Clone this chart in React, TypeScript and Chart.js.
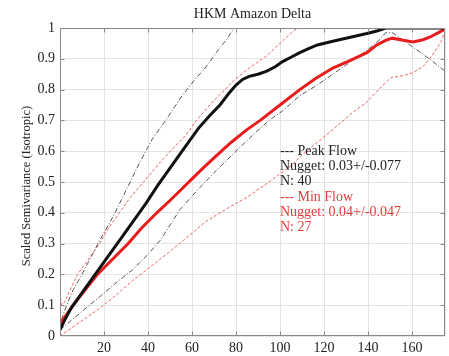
import { useEffect, useRef } from "react";
import { Chart, registerables } from "chart.js";

Chart.register(...registerables);

const SERIF = '"Liberation Serif", "Times New Roman", Times, serif';

const chartTitle = "HKM Amazon Delta";
const yAxisTitle = "Scaled Semivariance (Isotropic)";

const xMin = 0;
const xMax = 175;
const xTickValues = [0, 20, 40, 60, 80, 100, 120, 140, 160, 175];
const yMin = 0;
const yMax = 1;
const yTickValues = [0, 0.1, 0.2, 0.3, 0.4, 0.5, 0.6, 0.7, 0.8, 0.9, 1];

// Mean semivariogram, peak flow (black, thick)
const peakMean: [number, number][] = [
  [0, 0.02], [2, 0.05], [5, 0.09], [9, 0.13], [16, 0.2], [22, 0.26], [27, 0.31],
  [33, 0.37], [39, 0.43], [44.5, 0.49], [50, 0.545], [55.5, 0.6], [63, 0.675],
  [68, 0.715], [72.7, 0.75], [77, 0.79], [80, 0.815], [83, 0.833], [86, 0.843],
  [90, 0.85], [94, 0.86], [98, 0.875], [101, 0.89], [105, 0.905], [109, 0.92],
  [113, 0.933], [117, 0.945], [124, 0.957], [132, 0.97], [139.5, 0.982],
  [144, 0.99], [148, 1.0], [160, 1.0], [175, 1.0],
];

// Mean semivariogram, min flow (red, thick)
const minMean: [number, number][] = [
  [0, 0.04], [2, 0.06], [6, 0.1], [12, 0.155], [17, 0.2], [24, 0.25], [31, 0.3],
  [37, 0.35], [44, 0.4], [50, 0.44], [55, 0.475], [60, 0.51], [65, 0.545],
  [71, 0.585], [78, 0.63], [85, 0.67], [91, 0.7], [100, 0.75], [109, 0.8],
  [116, 0.835], [124, 0.87], [132, 0.895], [139.5, 0.92], [144, 0.945],
  [148, 0.96], [151, 0.967], [156, 0.96], [160.5, 0.955], [165, 0.962],
  [168, 0.97], [172, 0.985], [175, 0.997],
];

// Peak flow envelope (black, dash-dot)
const peakUpper: [number, number][] = [
  [0, 0.02], [1, 0.06], [3, 0.1], [6, 0.15], [10, 0.2], [14, 0.255], [18, 0.31],
  [22, 0.36], [25, 0.4], [30.5, 0.48], [36, 0.56], [42, 0.64], [48, 0.7],
  [55.5, 0.78], [61, 0.83], [66, 0.87], [72, 0.93], [76, 0.965], [79, 1.0],
  [85, 1.05],
];
const peakLower: [number, number][] = [
  [0, 0.02], [5, 0.05], [10, 0.08], [18, 0.127], [25, 0.17], [33, 0.215],
  [40, 0.265], [45.5, 0.31], [50, 0.36], [54.5, 0.41], [62, 0.47], [70, 0.53],
  [80, 0.6], [88, 0.655], [95, 0.7], [101, 0.73], [109, 0.78], [117, 0.815],
  [124, 0.85], [132, 0.89], [140, 0.93], [145, 0.96], [148, 0.985], [151, 0.985],
  [155, 0.965], [160, 0.94], [165, 0.915], [170, 0.888], [175, 0.86],
];

// Min flow envelope (red, dotted)
const minUpper: [number, number][] = [
  [0, 0.14], [0.7, 0.1], [2, 0.11], [4, 0.14], [8, 0.2], [13, 0.25], [18, 0.3],
  [22, 0.35], [27, 0.4], [32, 0.45], [38, 0.5], [45, 0.56], [51.5, 0.61],
  [57, 0.65], [62, 0.7], [70, 0.765], [75, 0.8], [79, 0.83], [86, 0.87],
  [94, 0.91], [100, 0.95], [106, 0.99], [108, 1.0], [112, 1.03],
];
const minLower: [number, number][] = [
  [0, 0], [5, 0.025], [10, 0.05], [18, 0.09], [25, 0.13], [33, 0.18],
  [43, 0.235], [50, 0.275], [56, 0.31], [66, 0.37], [75, 0.41], [85, 0.45],
  [95, 0.5], [104.5, 0.55], [112, 0.6], [118, 0.635], [124, 0.67], [132, 0.72],
  [139.5, 0.76], [145.5, 0.805], [149, 0.83], [151, 0.84], [156, 0.845],
  [160.5, 0.855], [165, 0.875], [168, 0.9], [171, 0.93], [173.5, 0.96],
  [175, 0.99],
];

const peakLegend = ["--- Peak Flow", "Nugget: 0.03+/-0.077", "N: 40"];
const minLegend = ["--- Min Flow", "Nugget: 0.04+/-0.047", "N: 27"];

const BLACK = "#111111";
const RED = "#e81c1c";
const TEXT_RED = "#e53a3a";

const toPoints = (s: [number, number][]) => s.map(([x, y]) => ({ x, y }));

const annotations = {
  id: "annotations",
  afterDraw(chart: any) {
    const { ctx, chartArea, scales } = chart;
    const xs = scales.x;
    const ys = scales.y;
    ctx.save();

    // axes box with inward ticks
    ctx.strokeStyle = "#8a8a8a";
    ctx.lineWidth = 1;
    const l = Math.round(chartArea.left) + 0.5;
    const r = Math.round(chartArea.right) - 0.5;
    const t = Math.round(chartArea.top) + 0.5;
    const b = Math.round(chartArea.bottom) - 0.5;
    ctx.strokeRect(l, t, r - l, b - t);
    ctx.beginPath();
    xTickValues.slice(1, -1).forEach((v) => {
      const px = Math.round(xs.getPixelForValue(v)) + 0.5;
      ctx.moveTo(px, b); ctx.lineTo(px, b - 4);
      ctx.moveTo(px, t); ctx.lineTo(px, t + 4);
    });
    yTickValues.slice(1, -1).forEach((v) => {
      const py = Math.round(ys.getPixelForValue(v)) + 0.5;
      ctx.moveTo(l, py); ctx.lineTo(l + 4, py);
      ctx.moveTo(r, py); ctx.lineTo(r - 4, py);
    });
    ctx.stroke();

    // title
    ctx.fillStyle = "#222";
    ctx.font = `14px ${SERIF}`;
    ctx.textAlign = "center";
    ctx.textBaseline = "middle";
    ctx.fillText(chartTitle, (chartArea.left + chartArea.right) / 2, 14);

    // y axis title
    ctx.save();
    ctx.translate(27, ys.getPixelForValue(0.5) + 4);
    ctx.rotate(-Math.PI / 2);
    ctx.font = `12.5px ${SERIF}`;
    ctx.fillText(yAxisTitle, 0, 0);
    ctx.restore();

    // statistics text
    ctx.font = `14px ${SERIF}`;
    ctx.textAlign = "left";
    const lx = xs.getPixelForValue(100);
    const ly = ys.getPixelForValue(0.6);
    const step = 15.3;
    peakLegend.forEach((s, i) => {
      ctx.fillStyle = "#222";
      ctx.fillText(s, lx, ly + i * step);
    });
    minLegend.forEach((s, i) => {
      ctx.fillStyle = TEXT_RED;
      ctx.fillText(s, lx, ly + (i + 3) * step);
    });
    ctx.restore();
  },
};

export default function App() {
  const canvasRef = useRef<HTMLCanvasElement | null>(null);

  useEffect(() => {
    const canvas = canvasRef.current;
    if (!canvas) return;
    const chart = new Chart(canvas, {
      type: "line",
      data: {
        datasets: [
          { label: "Peak Flow", data: toPoints(peakMean), borderColor: BLACK, borderWidth: 3 },
          { label: "Min Flow", data: toPoints(minMean), borderColor: RED, borderWidth: 3 },
          {
            label: "Peak upper", data: toPoints(peakUpper), borderColor: "#555555",
            borderWidth: 1, borderDash: [5, 2, 1, 2],
          },
          {
            label: "Peak lower", data: toPoints(peakLower), borderColor: "#555555",
            borderWidth: 1, borderDash: [5, 2, 1, 2],
          },
          {
            label: "Min upper", data: toPoints(minUpper), borderColor: "rgba(236,70,70,0.85)",
            borderWidth: 1, borderDash: [3, 2],
          },
          {
            label: "Min lower", data: toPoints(minLower), borderColor: "rgba(236,70,70,0.85)",
            borderWidth: 1, borderDash: [3, 2],
          },
        ],
      },
      options: {
        responsive: false,
        animation: false,
        devicePixelRatio: 1,
        layout: { padding: { left: 0, right: 3, top: 28, bottom: 0 } },
        elements: {
          point: { radius: 0 },
          line: { tension: 0, fill: false, borderCapStyle: "butt" },
        },
        plugins: {
          legend: { display: false },
          title: { display: false },
          tooltip: { enabled: false },
        },
        scales: {
          x: {
            type: "linear",
            min: xMin,
            max: xMax,
            afterBuildTicks: (s: any) => { s.ticks = xTickValues.map((value) => ({ value })); },
            afterFit: (s: any) => { s.height = 20; },
            grid: { color: "#e4e4e4", drawTicks: false },
            border: { display: false },
            ticks: {
              padding: 4,
              color: "#222",
              font: { family: SERIF, size: 14 },
              maxRotation: 0,
              autoSkip: false,
              callback: (v: any) => (v === xMin || v === xMax ? "" : String(v)),
            },
          },
          y: {
            type: "linear",
            min: yMin,
            max: yMax,
            afterBuildTicks: (s: any) => { s.ticks = yTickValues.map((value) => ({ value })); },
            afterFit: (s: any) => { s.width = 60; },
            grid: { color: "#e4e4e4", drawTicks: false },
            border: { display: false },
            ticks: {
              padding: 5,
              color: "#222",
              font: { family: SERIF, size: 14 },
              autoSkip: false,
              callback: (v: any) => {
                const r = Math.round(Number(v) * 10) / 10;
                return r === 0 || r === 1 ? String(r) : r.toFixed(1);
              },
            },
          },
        },
      },
      plugins: [annotations],
    });
    return () => chart.destroy();
  }, []);

  return (
    <div style={{ position: "fixed", left: 0, top: 0, width: 449, height: 356, background: "#fff" }}>
      <canvas ref={canvasRef} width={449} height={356} style={{ width: 449, height: 356, display: "block" }} />
    </div>
  );
}
